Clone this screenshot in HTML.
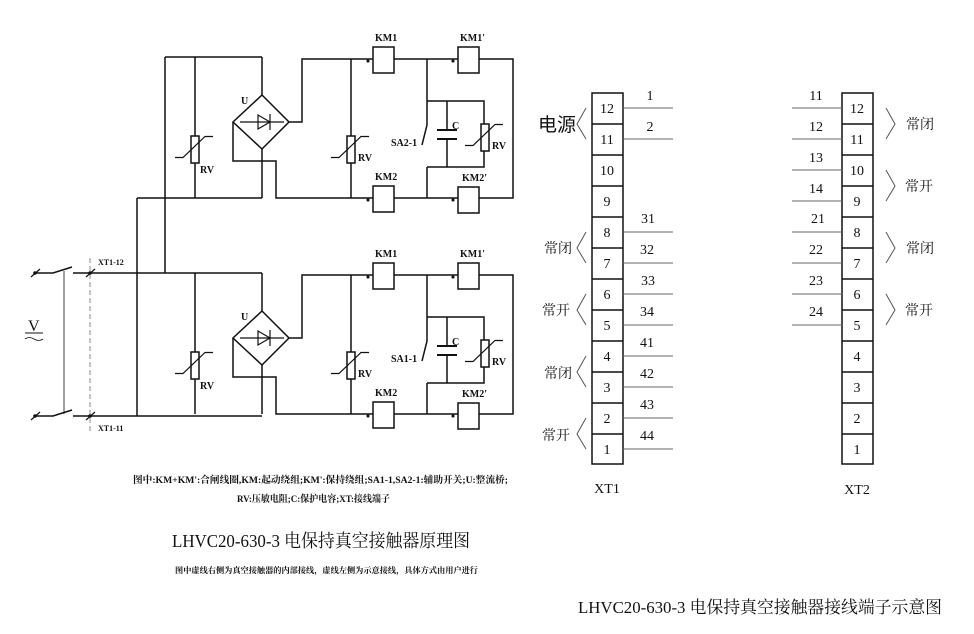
<!DOCTYPE html>
<html><head><meta charset="utf-8"><style>
html,body{margin:0;padding:0;background:#fff}
svg{display:block}
text{font-family:"Liberation Serif","Noto Serif CJK SC","Noto Sans CJK SC",serif;fill:#111}
.c{font-family:"Liberation Sans","Noto Sans CJK SC",sans-serif}
</style></head><body>
<svg width="974" height="634" viewBox="0 0 974 634" xmlns="http://www.w3.org/2000/svg">
<defs>
<g id="var" fill="none" stroke="#111" stroke-width="1.5">
<rect x="-4" y="-13" width="8" height="27" fill="#fff"/>
<polyline points="-20,8.5 -12,8.5 10,-12.5 18,-12.5" stroke-width="1.2"/>
</g>
<g id="circ" fill="none" stroke="#111" stroke-width="1.5">
<line x1="195" y1="57" x2="195" y2="198"/>
<line x1="262" y1="57" x2="262" y2="95"/>
<polygon points="262,95 289,122 262,149 233,122" fill="#fff"/>
<line x1="240" y1="122" x2="284" y2="122" stroke-width="1.2"/>
<polygon points="258,115 258,129 270,122" stroke-width="1.2"/>
<line x1="270" y1="114" x2="270" y2="130" stroke-width="1.2"/>
<line x1="262" y1="149" x2="262" y2="198"/>
<polyline points="233,122 233,161 276,161 276,198 373,198"/>
<polyline points="289,122 302,122 302,59 373,59"/>
<line x1="351" y1="59" x2="351" y2="198"/>
<rect x="373" y="47" width="21" height="26" fill="#fff"/>
<rect x="458" y="47" width="21" height="26" fill="#fff"/>
<rect x="373" y="186" width="21" height="26" fill="#fff"/>
<rect x="458" y="187" width="21" height="26" fill="#fff"/>
<line x1="394" y1="59" x2="458" y2="59"/>
<polyline points="479,59 513,59 513,198 479,198"/>
<line x1="394" y1="198" x2="458" y2="198"/>
<polyline points="427,59 427,125 422,145"/>
<line x1="427" y1="167" x2="427" y2="198"/>
<polyline points="427,101 484,101 484,167 427,167"/>
<line x1="447" y1="101" x2="447" y2="130"/>
<line x1="447" y1="139" x2="447" y2="167"/>
<line x1="437" y1="130" x2="457" y2="130" stroke-width="2"/>
<line x1="437" y1="139" x2="457" y2="139" stroke-width="2"/>
<circle cx="368" cy="61" r="0.8" fill="#111"/>
<circle cx="453" cy="61" r="0.8" fill="#111"/>
<circle cx="368" cy="200" r="0.8" fill="#111"/>
<circle cx="453" cy="200" r="0.8" fill="#111"/>
</g>
</defs>

<use href="#circ"/>
<use href="#var" x="195" y="149"/>
<use href="#var" x="351" y="149"/>
<use href="#var" x="485" y="137"/>
<use href="#circ" y="216"/>
<use href="#var" x="195" y="365"/>
<use href="#var" x="351" y="365"/>
<use href="#var" x="485" y="353"/>

<g fill="none" stroke="#111" stroke-width="1.5">
<line x1="165" y1="57" x2="262" y2="57"/>
<line x1="165" y1="57" x2="165" y2="273"/>
<line x1="137" y1="198" x2="262" y2="198"/>
<line x1="137" y1="198" x2="137" y2="416"/>
<line x1="73" y1="273" x2="262" y2="273"/>
<line x1="73" y1="416" x2="262" y2="416"/>
<polyline points="35,273 53,273 72,267"/>
<polyline points="35,416 53,416 72,410"/>
<line x1="31" y1="277" x2="40" y2="269" stroke-width="1.2"/>
<line x1="31" y1="420" x2="40" y2="412" stroke-width="1.2"/>
<line x1="86" y1="277" x2="95" y2="269" stroke-width="1.2"/>
<line x1="86" y1="420" x2="95" y2="412" stroke-width="1.2"/>
<line x1="64" y1="271" x2="64" y2="414" stroke-width="0.8"/>
<line x1="90" y1="258" x2="90" y2="432" stroke="#888" stroke-width="1" stroke-dasharray="5,3"/>
<line x1="25" y1="333" x2="43" y2="333" stroke-width="1"/>
<path d="M25,339 q4,-3 9,0 t9,0" stroke-width="0.8"/>
</g>
<circle cx="35" cy="273" r="1.8" fill="#111"/><circle cx="35" cy="416" r="1.8" fill="#111"/>
<circle cx="90" cy="273" r="1.8" fill="#111"/><circle cx="90" cy="416" r="1.8" fill="#111"/>

<g font-size="10" font-weight="bold">
<text x="241" y="104">U</text><text x="241" y="320">U</text>
<text x="200" y="173">RV</text><text x="200" y="389">RV</text>
<text x="358" y="161">RV</text><text x="358" y="377">RV</text>
<text x="492" y="149">RV</text><text x="492" y="365">RV</text>
<text x="452" y="129">C</text><text x="452" y="345">C</text>
<text x="391" y="146">SA2-1</text><text x="391" y="362">SA1-1</text>
<text x="375" y="41">KM1</text><text x="460" y="41">KM1'</text>
<text x="375" y="180">KM2</text><text x="462" y="181">KM2'</text>
<text x="375" y="257">KM1</text><text x="460" y="257">KM1'</text>
<text x="375" y="396">KM2</text><text x="462" y="397">KM2'</text>
<text x="98" y="265" font-size="8">XT1-12</text>
<text x="98" y="431" font-size="8">XT1-11</text>
</g>
<text x="28" y="331" font-size="16">V</text>

<text x="133" y="483" font-size="9.5" font-weight="bold" textLength="375" lengthAdjust="spacingAndGlyphs">图中:KM+KM':合闸线圈,KM:起动绕组;KM':保持绕组;SA1-1,SA2-1:辅助开关;U:整流桥;</text>
<text x="237" y="502" font-size="9.5" font-weight="bold" textLength="153" lengthAdjust="spacingAndGlyphs">RV:压敏电阻;C:保护电容;XT:接线端子</text>
<text x="172" y="547" font-size="18" textLength="298" lengthAdjust="spacingAndGlyphs">LHVC20-630-3 电保持真空接触器原理图</text>
<text x="175" y="573" font-size="8" font-weight="bold" textLength="303" lengthAdjust="spacingAndGlyphs">图中虚线右侧为真空接触器的内部接线，虚线左侧为示意接线，具体方式由用户进行</text>
<text x="578" y="613" font-size="17" textLength="364" lengthAdjust="spacingAndGlyphs">LHVC20-630-3 电保持真空接触器接线端子示意图</text>

<g fill="none" stroke="#111" stroke-width="1.5">
<rect x="592" y="93" width="31" height="371"/>
<path d="M592,124H623M592,155H623M592,186H623M592,217H623M592,248H623M592,279H623M592,310H623M592,341H623M592,372H623M592,403H623M592,434H623"/>
<rect x="842" y="93" width="31" height="371"/>
<path d="M842,124H873M842,155H873M842,186H873M842,217H873M842,248H873M842,279H873M842,310H873M842,341H873M842,372H873M842,403H873M842,434H873"/>
</g>
<g stroke="#666" stroke-width="1">
<path d="M623,108H673M623,139H673M623,232H673M623,263H673M623,294H673M623,325H673M623,356H673M623,387H673M623,418H673M623,449H673"/>
<path d="M792,108H842M792,139H842M792,170H842M792,201H842M792,232H842M792,263H842M792,294H842M792,325H842"/>
</g>
<g fill="none" stroke="#555" stroke-width="1">
<polyline points="586,108 577,124 586,139"/>
<polyline points="586,232 577,248 586,263"/>
<polyline points="586,294 577,310 586,325"/>
<polyline points="586,356 577,372 586,387"/>
<polyline points="586,418 577,434 586,449"/>
<polyline points="886,108 895,124 886,139"/>
<polyline points="886,170 895,186 886,201"/>
<polyline points="886,232 895,248 886,263"/>
<polyline points="886,294 895,310 886,325"/>
</g>
<g font-size="14" text-anchor="middle">
<text x="607" y="113">12</text><text x="607" y="144">11</text><text x="607" y="175">10</text><text x="607" y="206">9</text>
<text x="607" y="237">8</text><text x="607" y="268">7</text><text x="607" y="299">6</text><text x="607" y="330">5</text>
<text x="607" y="361">4</text><text x="607" y="392">3</text><text x="607" y="423">2</text><text x="607" y="454">1</text>
<text x="857" y="113">12</text><text x="857" y="144">11</text><text x="857" y="175">10</text><text x="857" y="206">9</text>
<text x="857" y="237">8</text><text x="857" y="268">7</text><text x="857" y="299">6</text><text x="857" y="330">5</text>
<text x="857" y="361">4</text><text x="857" y="392">3</text><text x="857" y="423">2</text><text x="857" y="454">1</text>
<text x="650" y="100">1</text><text x="650" y="131">2</text>
<text x="648" y="223">31</text><text x="647" y="254">32</text><text x="648" y="285">33</text><text x="647" y="316">34</text>
<text x="647" y="347">41</text><text x="647" y="378">42</text><text x="647" y="409">43</text><text x="647" y="440">44</text>
<text x="816" y="100">11</text><text x="816" y="131">12</text><text x="816" y="162">13</text><text x="816" y="193">14</text>
<text x="818" y="223">21</text><text x="816" y="254">22</text><text x="816" y="285">23</text><text x="816" y="316">24</text>
<text x="607" y="493">XT1</text><text x="857" y="494">XT2</text>
</g>
<g font-size="14" class="c">
<text x="538" y="131" font-size="19" class="c" textLength="38" lengthAdjust="spacingAndGlyphs">电源</text>
<text x="544" y="253">常闭</text><text x="542" y="315">常开</text>
<text x="544" y="378">常闭</text><text x="542" y="440">常开</text>
<text x="906" y="129">常闭</text><text x="905" y="191">常开</text>
<text x="906" y="253">常闭</text><text x="905" y="315">常开</text>
</g>
</svg>
</body></html>
